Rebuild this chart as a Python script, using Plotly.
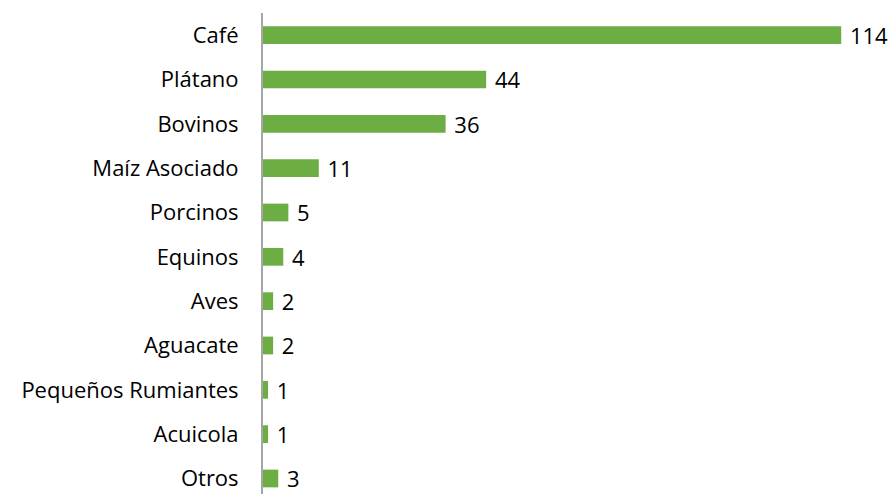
import plotly.graph_objects as go

categories = ["Café", "Plátano", "Bovinos", "Maíz Asociado", "Porcinos", "Equinos",
              "Aves", "Aguacate", "Pequeños Rumiantes", "Acuicola", "Otros"]
values = [114, 44, 36, 11, 5, 4, 2, 2, 1, 1, 3]

FONT = "Open Sans"

fig = go.Figure(go.Bar(
    y=categories, x=values, orientation="h",
    marker=dict(color="#6cad44", line=dict(width=0)),
    width=0.4,
    text=values, texttemplate=" %{x}", textposition="outside",
    constraintext="none",
    textfont=dict(size=22, color="#000000", family=FONT),
    cliponaxis=False,
))

fig.update_layout(
    width=888, height=486,
    margin=dict(l=255, r=0, t=5, b=0, autoexpand=False),
    paper_bgcolor="white", plot_bgcolor="white",
    showlegend=False,
    font=dict(family=FONT, size=22, color="#000000"),
)
fig.update_xaxes(range=[0, 124.8], showgrid=False, zeroline=False, showticklabels=False,
                 showline=False, automargin=False)
fig.update_yaxes(type="category", categoryorder="array", categoryarray=categories,
                 range=[10.35, -0.5], showgrid=False, zeroline=False, automargin=False,
                 showline=True, linecolor="#a6a6a6", linewidth=2,
                 ticks="", ticklabelstandoff=18,
                 tickfont=dict(size=22, family=FONT, color="#000000"))

fig.write_html("out.html")
